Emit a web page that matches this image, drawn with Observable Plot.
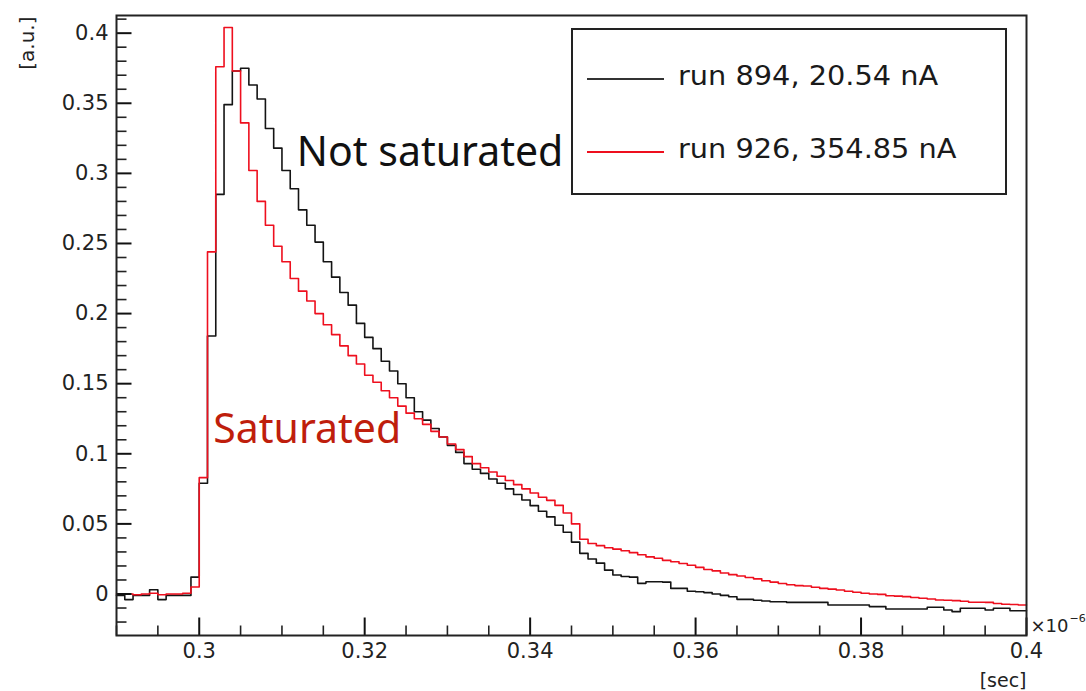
<!DOCTYPE html>
<html>
<head>
<meta charset="utf-8">
<script src="https://cdn.jsdelivr.net/npm/d3@7"></script>
<script src="https://cdn.jsdelivr.net/npm/@observablehq/plot@0.6"></script>
<style>
  html, body { margin: 0; padding: 0; background: #fff; }
  #wrap { position: relative; width: 1086px; height: 691px; overflow: hidden; }
  #legend { position: absolute; left: 571px; top: 28px; width: 432px; height: 163px;
            border: 2px solid #222; background: #fff; box-sizing: content-box; }
  .lg-line { position: absolute; left: 14px; width: 77px; }
  .lg-text { position: absolute; left: 105px; font-family: "DejaVu Sans", sans-serif; font-size: 26px;
             color: #1a1a1a; transform: scaleX(1.107); transform-origin: left center; white-space: nowrap; line-height: 1; }
</style>
</head>
<body>
<div id="wrap"></div>
<script>
// ---- data ----
const binStart = 0.290;   // x10^-6 sec
const binWidth = 0.001;
const binCount = 110;

// run 894, 20.54 nA (black)
const run894 = [
  -0.001, -0.004, -0.001, -0.001, 0.003, -0.004, -0.001, -0.001, -0.001, 0.012,
  0.079, 0.184, 0.285, 0.349, 0.373, 0.375, 0.363, 0.353, 0.332, 0.318,
  0.302, 0.289, 0.274, 0.263, 0.251, 0.237, 0.226, 0.215, 0.206, 0.193,
  0.183, 0.175, 0.166, 0.159, 0.150, 0.140, 0.130, 0.124, 0.118, 0.112,
  0.106, 0.101, 0.093, 0.089, 0.086, 0.082, 0.079, 0.075, 0.071, 0.067,
  0.063, 0.059, 0.055, 0.049, 0.044, 0.037, 0.029, 0.025, 0.022, 0.017,
  0.0135, 0.0125, 0.012, 0.0076, 0.0087, 0.0087, 0.0085, 0.004, 0.004, 0.002,
  0.0016, 0.001, 0.0, -0.001, -0.002, -0.0038, -0.0038, -0.0045, -0.005, -0.0055,
  -0.0055, -0.006, -0.006, -0.006, -0.006, -0.006, -0.0078, -0.0078, -0.0078, -0.0078,
  -0.0078, -0.009, -0.009, -0.0107, -0.0107, -0.0107, -0.0107, -0.0107, -0.0095, -0.0095,
  -0.0114, -0.0126, -0.0102, -0.0102, -0.0102, -0.0114, -0.0102, -0.0102, -0.0119, -0.0119
];

// run 926, 354.85 nA (red)
const run926 = [
  0.0, 0.0, -0.0005, 0.0, 0.0005, -0.0005, 0.0, 0.0, 0.0005, 0.005,
  0.083, 0.244, 0.376, 0.404, 0.373, 0.336, 0.302, 0.280, 0.263, 0.248,
  0.237, 0.225, 0.216, 0.209, 0.200, 0.192, 0.185, 0.177, 0.170, 0.164,
  0.156, 0.151, 0.145, 0.140, 0.134, 0.129, 0.125, 0.121, 0.116, 0.112,
  0.107, 0.103, 0.098, 0.093, 0.090, 0.087, 0.084, 0.081, 0.078, 0.075,
  0.072, 0.069, 0.0668, 0.0632, 0.0578, 0.050, 0.039, 0.036, 0.0345, 0.033,
  0.032, 0.0308, 0.0295, 0.028, 0.0265, 0.0255, 0.024, 0.023, 0.0218, 0.0205,
  0.019, 0.0175, 0.0165, 0.015, 0.0138, 0.0128, 0.0118, 0.0108, 0.0095, 0.0085,
  0.0075, 0.0066, 0.006, 0.0057, 0.0048, 0.004, 0.0035, 0.0028, 0.002, 0.0012,
  0.0005, 0.0, -0.0003, -0.0012, -0.0015, -0.0019, -0.0025, -0.003, -0.0036, -0.0043,
  -0.0045, -0.0047, -0.0052, -0.0059, -0.0059, -0.006, -0.0068, -0.0073, -0.0075, -0.0078
];

const series = [
  { name: "run 894, 20.54 nA", values: run894, color: "#141414" },
  { name: "run 926, 354.85 nA", values: run926, color: "#ee0f1e" }
];

const xTickLabels = [0.30, 0.32, 0.34, 0.36, 0.38, 0.40];
const xMinorTicks = [0.290, 0.295, 0.305, 0.310, 0.315, 0.325, 0.330, 0.335, 0.345,
                     0.350, 0.355, 0.365, 0.370, 0.375, 0.385, 0.390, 0.395];
const yTickLabels = [0, 0.05, 0.10, 0.15, 0.20, 0.25, 0.30, 0.35, 0.40];
const yMinorTicks = [-0.02, -0.01, 0.01, 0.02, 0.03, 0.04, 0.06, 0.07, 0.08, 0.09, 0.11, 0.12,
                     0.13, 0.14, 0.16, 0.17, 0.18, 0.19, 0.21, 0.22, 0.23, 0.24, 0.26,
                     0.27, 0.28, 0.29, 0.31, 0.32, 0.33, 0.34, 0.36, 0.37, 0.38, 0.39, 0.41];

const annotations = [
  { label: "Not saturated", x: 0.3118, y: 0.305, color: "#111111" },
  { label: "Saturated", x: 0.3017, y: 0.108, color: "#bf1e0c" }
];

// ---- build ----
const width = 1086, height = 691;
const mL = 116, mR = 60, mT = 15, mB = 56;
const frameW = width - mL - mR, frameH = height - mT - mB;
const xDomain = [0.29, 0.40], yDomain = [-0.0296, 0.4126];
// tick lengths in pixels converted to data units (ticks drawn inside the frame, ROOT style)
const pxX = (xDomain[1] - xDomain[0]) / frameW;
const pxY = (yDomain[1] - yDomain[0]) / frameH;

function steps(values) {
  const pts = values.map((v, k) => ({ x: binStart + k * binWidth, y: v }));
  pts.push({ x: binStart + binCount * binWidth, y: values[values.length - 1] });
  return pts;
}
const fmt = d => String(+d.toFixed(2));

const xTick = (ticks, len, w, c) => Plot.link(ticks, {
  x1: d => d, x2: d => d, y1: () => yDomain[0], y2: () => yDomain[0] + len * pxY, stroke: c, strokeWidth: w
});
const yTick = (ticks, len, w, c) => Plot.link(ticks, {
  y1: d => d, y2: d => d, x1: () => xDomain[0], x2: () => xDomain[0] + len * pxX, stroke: c, strokeWidth: w
});

const chart = Plot.plot({
  width, height,
  marginLeft: mL, marginRight: mR, marginTop: mT, marginBottom: mB,
  style: { fontFamily: "DejaVu Sans, sans-serif", background: "#fff", color: "#1a1a1a" },
  x: { domain: xDomain, axis: null },
  y: { domain: yDomain, axis: null },
  marks: [
    // histograms
    ...series.map(s => Plot.line(steps(s.values), {
      x: "x", y: "y", curve: "step-after", stroke: s.color, strokeWidth: 1.6
    })),
    // inward ticks (ROOT style)
    xTick(xMinorTicks, 10, 1.6, "#222"),
    xTick(xTickLabels, 18, 2, "#111"),
    yTick(yMinorTicks, 10, 1.6, "#222"),
    yTick(yTickLabels, 15, 2, "#111"),
    Plot.frame({ stroke: "#222", strokeWidth: 2 }),
    Plot.axisX(xTickLabels, { tickSize: 0, tickPadding: 8, fontSize: 21, tickFormat: fmt, fill: "#222", label: null }),
    Plot.axisY(yTickLabels, { tickSize: 0, tickPadding: 8, fontSize: 21, tickFormat: fmt, fill: "#222", label: null }),
    // axis titles
    Plot.text(["[a.u.]"], { frameAnchor: "top-left", rotate: -90, textAnchor: "end", lineAnchor: "middle",
                            dx: -89, dy: 1, fontSize: 20, fill: "#222" }),
    Plot.text(["[sec]"], { frameAnchor: "bottom-right", textAnchor: "end", lineAnchor: "middle",
                           dx: 0, dy: 45, fontSize: 19, fill: "#222" }),
    Plot.text(["×10"], { frameAnchor: "bottom-right", textAnchor: "start", lineAnchor: "middle",
                         dx: 4, dy: -9, fontSize: 18, fill: "#222" }),
    Plot.text(["−6"], { frameAnchor: "bottom-right", textAnchor: "start", lineAnchor: "middle",
                        dx: 43, dy: -17, fontSize: 11, fill: "#222" }),
    // annotations
    Plot.text(annotations, { x: "x", y: "y", text: "label", fill: "color", textAnchor: "start",
                             lineAnchor: "bottom", fontSize: 41, fontFamily: "Noto Sans, sans-serif" })
  ]
});

const wrap = document.getElementById("wrap");
wrap.appendChild(chart);

// legend (ROOT TLegend box)
const legend = document.createElement("div");
legend.id = "legend";
series.forEach((s, i) => {
  const cy = i === 0 ? 49 : 122;
  const ln = document.createElement("div");
  ln.className = "lg-line";
  ln.style.top = (cy - 1) + "px";
  ln.style.height = (i === 0 ? 1.5 : 2) + "px";
  ln.style.background = i === 0 ? "#333" : s.color;
  legend.appendChild(ln);
  const tx = document.createElement("div");
  tx.className = "lg-text";
  tx.style.top = (cy - 16) + "px";
  tx.textContent = s.name;
  legend.appendChild(tx);
});
wrap.appendChild(legend);
</script>
</body>
</html>
